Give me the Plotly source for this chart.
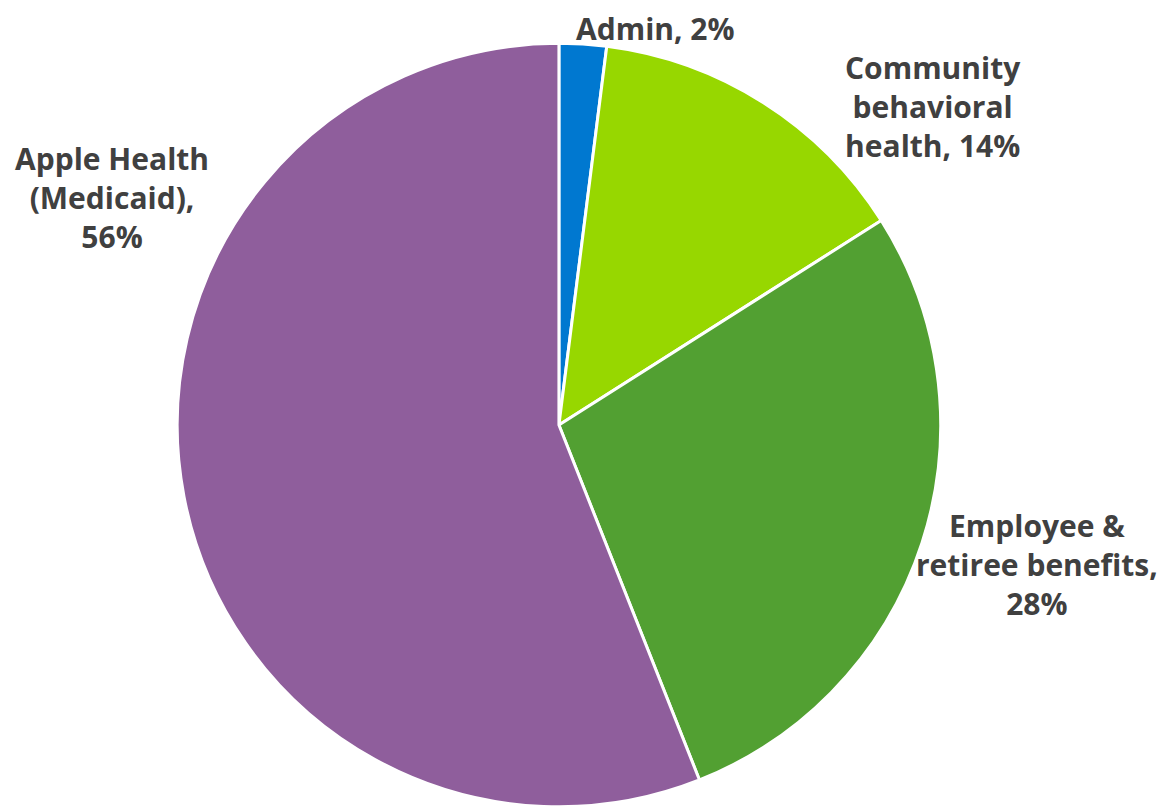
import plotly.graph_objects as go

categories = ["Admin", "Community behavioral health", "Employee & retiree benefits", "Apple Health (Medicaid)"]
values = [2, 14, 28, 56]
label_text = ["Admin, 2%", "Community<br>behavioral<br>health, 14%", "Employee &<br>retiree benefits,<br>28%", "Apple Health<br>(Medicaid),<br>56%"]
colors = ["#0078D0", "#97D700", "#52A032", "#8F5E9C"]

fig = go.Figure(go.Pie(
    labels=categories,
    values=values,
    sort=False,
    direction="clockwise",
    rotation=0,
    marker=dict(colors=colors, line=dict(color="white", width=3)),
    textinfo="none",
    hoverinfo="label+percent",
    showlegend=False,
    domain=dict(x=[0.1445, 0.8013], y=[0.0090, 0.9562]),
))

label_pos = [(0.5561, 0.9745), (0.7941, 0.8779), (0.8830, 0.3101), (0.0892, 0.7655)]
for txt, (x, y) in zip(label_text, label_pos):
    fig.add_annotation(x=x, y=y, xref="paper", yref="paper", text="<b>" + txt + "</b>",
                       showarrow=False, xanchor="center", yanchor="middle", align="center",
                       borderpad=0,
                       font=dict(family="Open Sans", size=30, color="#404040"))

fig.update_layout(width=1165, height=806, margin=dict(l=0, r=0, t=0, b=0),
                  paper_bgcolor="white", plot_bgcolor="white")
fig.write_html("out.html")
